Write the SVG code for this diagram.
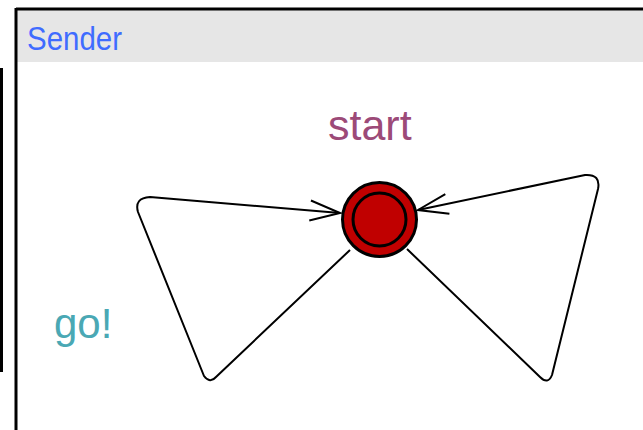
<svg xmlns="http://www.w3.org/2000/svg" width="643" height="430" viewBox="0 0 643 430">
<defs>
<style>
.edge{fill:none;stroke:#000;stroke-width:2;stroke-linejoin:round}
.lbl{font-family:"Liberation Sans",Arial,sans-serif}
</style>
<marker id="arr" markerUnits="userSpaceOnUse" markerWidth="40" markerHeight="30" viewBox="-32 -15 40 30" refX="0" refY="0" orient="auto">
<path d="M -30,-10 L 0,0 L -30,10" fill="none" stroke="#000" stroke-width="2"/>
</marker>
</defs>
<rect x="0" y="0" width="643" height="430" fill="#fff"/>
<rect x="0" y="68" width="3" height="304" fill="#000"/>
<g id="panel">
<rect x="17" y="10" width="630" height="52" fill="#e6e6e6"/>
<line x1="16" y1="9" x2="643" y2="9" stroke="#000" stroke-width="3"/>
<line x1="16" y1="8" x2="16" y2="430" stroke="#000" stroke-width="3"/>
<text class="lbl" x="27" y="50" font-size="33" fill="#3f6cff" textLength="95" lengthAdjust="spacingAndGlyphs">Sender</text>
</g>
<g id="connectors">
<path class="edge" d="M 350,250 L 216,377 Q 210,384 204,376 L 138,212 Q 134,198 150,197 L 340,213" marker-end="url(#arr)"/>
<path class="edge" d="M 407,249 L 540,377 Q 548,385 552,375 L 598,189 Q 601,174 585,175 L 418,210" marker-end="url(#arr)"/>
</g>
<g id="start">
<circle cx="379.5" cy="219.5" r="37" fill="#c00000" stroke="#000" stroke-width="3"/>
<circle cx="379.5" cy="219.5" r="26.5" fill="#c00000" stroke="#000" stroke-width="3"/>
<text class="lbl" x="328" y="140" font-size="43" fill="#9c4a78">start</text>
</g>
<g id="go">
<text class="lbl" x="54" y="338" font-size="42" fill="#4aa8b4">go!</text>
</g>
</svg>
